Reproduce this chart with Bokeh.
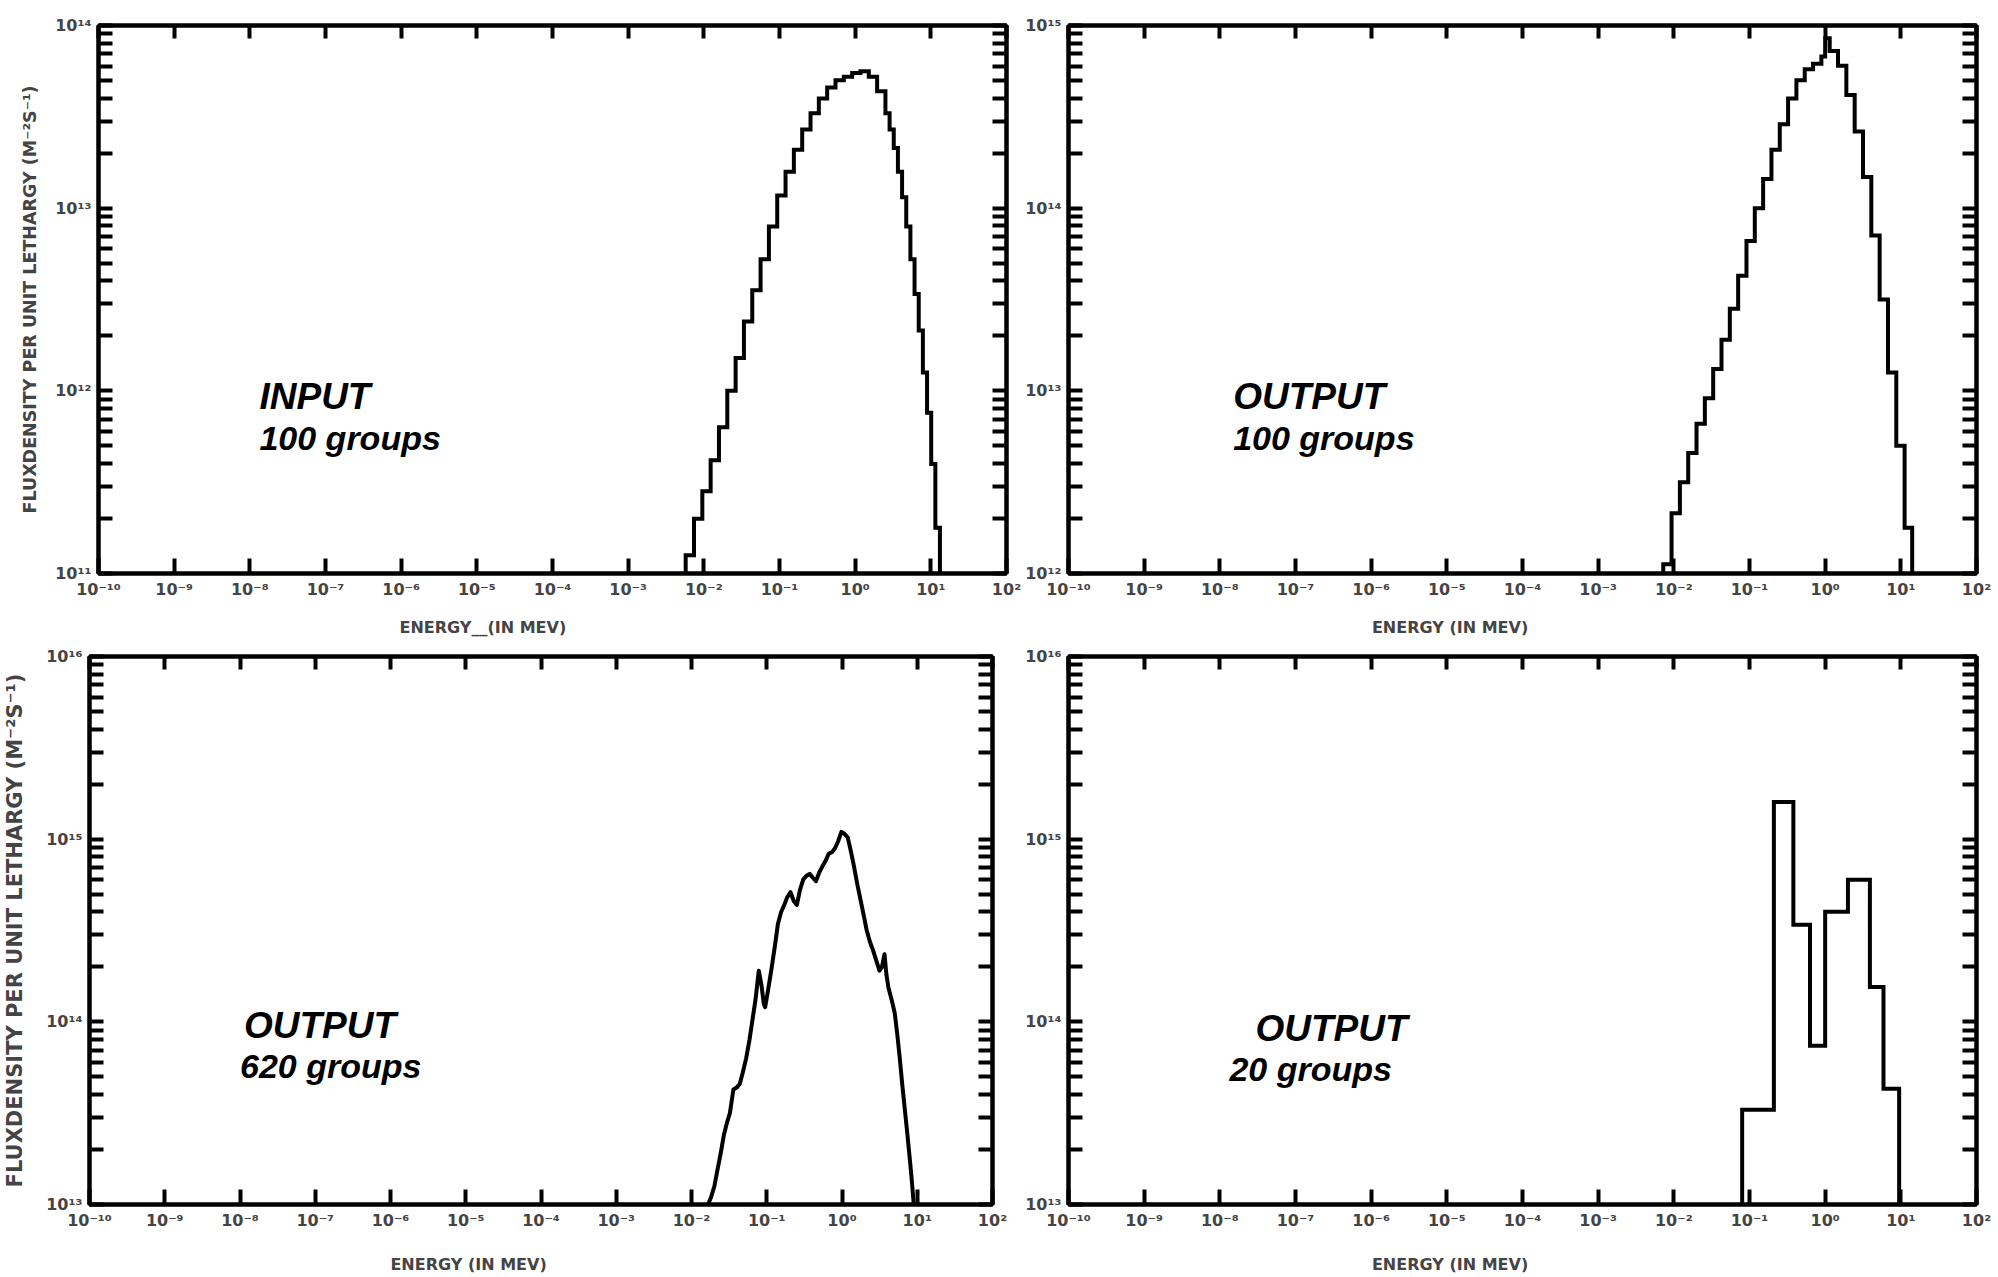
from bokeh.plotting import figure
from bokeh.models import LogAxis, FixedTicker, CustomJSTickFormatter, Label, Range1d
from bokeh.layouts import column, row
from bokeh.embed import file_html
from bokeh.resources import INLINE

# ---------------- data ----------------
energy_decades = list(range(-10, 3))          # x axis: 1e-10 .. 1e2 MeV

# Panel 1: INPUT, 100 groups  (log10 energy edges in MeV, log10 flux per group)
in100_log_edges = [-2.24, -2.13, -2.02, -1.91, -1.80, -1.69, -1.58, -1.47, -1.36, -1.25,
                   -1.14, -1.03, -0.92, -0.81, -0.70, -0.59, -0.48, -0.37, -0.26, -0.15,
                   -0.04, 0.07, 0.18, 0.29, 0.40, 0.455, 0.51, 0.565, 0.62, 0.675,
                   0.73, 0.785, 0.84, 0.895, 0.95, 1.005, 1.06, 1.12]
in100_log_flux = [11.10, 11.30, 11.45, 11.62, 11.80, 12.00, 12.18, 12.38, 12.55, 12.72,
                  12.90, 13.07, 13.20, 13.32, 13.43, 13.52, 13.60, 13.66, 13.70, 13.72,
                  13.74, 13.75, 13.72, 13.64, 13.52, 13.43, 13.33, 13.20, 13.06, 12.90,
                  12.72, 12.53, 12.33, 12.10, 11.88, 11.60, 11.25]
in100_decades = (11, 14)

# Panel 2: OUTPUT, 100 groups
out100_log_edges = [-2.14, -2.03, -1.92, -1.81, -1.70, -1.59, -1.48, -1.37, -1.26, -1.15,
                    -1.04, -0.93, -0.82, -0.71, -0.60, -0.49, -0.38, -0.27, -0.16, -0.05,
                    0.00, 0.06, 0.17, 0.28, 0.39, 0.50, 0.61, 0.72, 0.83, 0.94, 1.05, 1.15]
out100_log_flux = [12.05, 12.33, 12.50, 12.66, 12.82, 12.96, 13.12, 13.28, 13.45, 13.63,
                   13.82, 14.00, 14.16, 14.32, 14.46, 14.60, 14.70, 14.76, 14.79, 14.83,
                   14.93, 14.86, 14.78, 14.62, 14.42, 14.17, 13.85, 13.50, 13.10, 12.70, 12.25]
out100_decades = (12, 15)

# Panel 3: OUTPUT, 620 groups (fine structure drawn as a line)
out620_log_energy = [-1.781, -1.74, -1.696, -1.65, -1.612, -1.57, -1.527, -1.49, -1.443, -1.40,
                     -1.359, -1.32, -1.274, -1.23, -1.19, -1.15, -1.106, -1.07, -1.04, -1.021,
                     -0.98, -0.937, -0.89, -0.852, -0.81, -0.768, -0.73, -0.684, -0.64, -0.599,
                     -0.56, -0.515, -0.47, -0.43, -0.39, -0.346, -0.30, -0.262, -0.22, -0.177,
                     -0.13, -0.093, -0.05, -0.008, 0.03, 0.076, 0.12, 0.16, 0.20, 0.245,
                     0.29, 0.329, 0.37, 0.414, 0.46, 0.498, 0.53, 0.565, 0.59, 0.616,
                     0.66, 0.70, 0.735, 0.768, 0.80, 0.835, 0.87, 0.903, 0.93, 0.954]
out620_log_flux = [13.00, 13.04, 13.10, 13.20, 13.28, 13.38, 13.45, 13.50, 13.63, 13.64,
                   13.66, 13.72, 13.80, 13.90, 14.01, 14.12, 14.28, 14.20, 14.10, 14.08,
                   14.18, 14.29, 14.42, 14.535, 14.60, 14.64, 14.68, 14.71, 14.66, 14.64,
                   14.72, 14.78, 14.80, 14.81, 14.79, 14.77, 14.82, 14.85, 14.88, 14.92,
                   14.93, 14.95, 14.99, 15.04, 15.03, 15.01, 14.93, 14.85, 14.76, 14.67,
                   14.58, 14.50, 14.44, 14.39, 14.33, 14.28, 14.30, 14.37, 14.26, 14.19,
                   14.12, 14.05, 13.93, 13.80, 13.66, 13.52, 13.38, 13.24, 13.12, 13.00]
out620_decades = (13, 16)

# Panel 4: OUTPUT, 20 groups (energy edges in MeV, flux per group)
out20_edges = [0.08, 0.21, 0.38, 0.63, 1.0, 2.0, 3.9, 5.9, 9.5]
out20_flux = [3.3e13, 1.6e15, 3.4e14, 7.4e13, 4.0e14, 6.0e14, 1.55e14, 4.3e13]
out20_decades = (13, 16)

ylabel_text = "FLUXDENSITY PER UNIT LETHARGY (M\u207b\u00b2S\u207b\u00b9)"
xlabel_first = "ENERGY__(IN MEV)"
xlabel_text = "ENERGY  (IN MEV)"

# ---------------- helpers ----------------
SUP_JS = """
const sup = {"-":"\u207b","0":"\u2070","1":"\u00b9","2":"\u00b2","3":"\u00b3","4":"\u2074",
             "5":"\u2075","6":"\u2076","7":"\u2077","8":"\u2078","9":"\u2079"};
const e = Math.round(Math.log10(tick));
return "10" + String(e).split("").map(c => sup[c]).join("");
"""

TICK_FONT = "DejaVu Sans"
AX_W = 4
PAD = "\u00a0" * 25   # trailing no-break spaces shift the centred axis label to the left


def step_outline(edges, vals, floor):
    xs, ys = [edges[0]], [floor]
    for i, v in enumerate(vals):
        xs += [edges[i], edges[i + 1]]
        ys += [v, v]
    xs.append(edges[-1])
    ys.append(floor)
    return xs, ys


def make_panel(width, height, bl, br, bt, bb, decades, xlabel, xlabel_standoff,
               ylabel=None, ylabel_size="15px", ylabel_standoff=14):
    ylo, yhi = decades
    p = figure(width=width, height=height, x_axis_type="log", y_axis_type="log",
               x_range=Range1d(1e-10, 1e2), y_range=Range1d(10.0 ** ylo, 10.0 ** yhi),
               output_backend="svg", toolbar_location=None,
               min_border_left=bl, min_border_right=br, min_border_top=bt, min_border_bottom=bb)
    p.grid.visible = False
    p.outline_line_color = "black"
    p.outline_line_width = AX_W
    p.background_fill_color = "white"
    p.border_fill_color = "white"

    xt = FixedTicker(ticks=[10.0 ** k for k in energy_decades], minor_ticks=[])
    yt = FixedTicker(ticks=[10.0 ** k for k in range(ylo, yhi + 1)],
                     minor_ticks=[m * 10.0 ** k for k in range(ylo, yhi) for m in range(2, 10)])
    fmt = CustomJSTickFormatter(code=SUP_JS)

    for ax in p.xaxis:
        ax.ticker = xt
        ax.formatter = fmt
        ax.major_tick_in = 15
        ax.major_tick_out = 0
        ax.major_tick_line_width = AX_W
        ax.axis_line_width = AX_W
        ax.major_label_text_font = TICK_FONT
        ax.major_label_text_font_style = "bold"
        ax.major_label_text_font_size = "16px"
        ax.major_label_standoff = 6
        ax.axis_label = xlabel + PAD
        ax.axis_label_text_font = TICK_FONT
        ax.axis_label_text_font_style = "bold"
        ax.axis_label_text_font_size = "16px"
        ax.axis_label_standoff = xlabel_standoff
    for ax in p.yaxis:
        ax.ticker = yt
        ax.formatter = fmt
        ax.major_tick_in = 14
        ax.major_tick_out = 0
        ax.minor_tick_in = 14
        ax.minor_tick_out = 0
        ax.major_tick_line_width = AX_W
        ax.minor_tick_line_width = AX_W
        ax.axis_line_width = AX_W
        ax.major_label_text_font = TICK_FONT
        ax.major_label_text_font_style = "bold"
        ax.major_label_text_font_size = "16px"
        ax.major_label_standoff = 7
        if ylabel:
            ax.axis_label = ylabel
            ax.axis_label_text_font = TICK_FONT
            ax.axis_label_text_font_style = "bold"
            ax.axis_label_text_font_size = ylabel_size
            ax.axis_label_standoff = ylabel_standoff

    top = LogAxis(ticker=xt, major_label_text_color=None, major_label_text_font_size="4px",
                  major_tick_in=13, major_tick_out=0,
                  major_tick_line_width=AX_W, axis_line_width=AX_W, major_label_standoff=0)
    right = LogAxis(ticker=yt, major_label_text_color=None, major_label_text_font_size="4px",
                    major_tick_in=14, major_tick_out=0,
                    minor_tick_in=14, minor_tick_out=0, major_tick_line_width=AX_W,
                    minor_tick_line_width=AX_W, axis_line_width=AX_W, major_label_standoff=0)
    p.add_layout(top, "above")
    p.add_layout(right, "right")
    return p


def add_texts(p, x1, y1, t1, x2, y2, t2):
    p.add_layout(Label(x=x1, y=y1, text=t1, text_font="Liberation Sans",
                       text_font_style="bold italic", text_font_size="37px", text_color="black",
                       text_baseline="alphabetic"))
    p.add_layout(Label(x=x2, y=y2, text=t2, text_font="Liberation Sans",
                       text_font_style="bold italic", text_font_size="34px", text_color="black",
                       text_baseline="alphabetic"))


LINE_W = 4

# ---------------- panel 1 ----------------
p1 = make_panel(1022, 640, 98, 16, 25, 67, in100_decades, xlabel_first, 16,
                ylabel=ylabel_text, ylabel_size="17.5px", ylabel_standoff=12)
xs, ys = step_outline([10.0 ** v for v in in100_log_edges], [10.0 ** v for v in in100_log_flux],
                      10.0 ** in100_decades[0])
p1.line(xs, ys, line_color="black", line_width=LINE_W, line_join="miter")
add_texts(p1, 1.34e-8, 9.3e11, "INPUT", 1.34e-8, 5.55e11, "100 groups")

# ---------------- panel 2 ----------------
p2 = make_panel(976, 640, 46, 22, 25, 67, out100_decades, xlabel_text, 16)
xs, ys = step_outline([10.0 ** v for v in out100_log_edges], [10.0 ** v for v in out100_log_flux],
                      10.0 ** out100_decades[0])
p2.line(xs, ys, line_color="black", line_width=LINE_W, line_join="miter")
add_texts(p2, 1.5e-8, 9.3e12, "OUTPUT", 1.5e-8, 5.55e12, "100 groups")

# ---------------- panel 3 ----------------
p3 = make_panel(1022, 637, 87, 30, 16, 73, out620_decades, xlabel_text, 22,
                ylabel=ylabel_text, ylabel_size="21px", ylabel_standoff=16)
p3.line([10.0 ** v for v in out620_log_energy], [10.0 ** v for v in out620_log_flux],
        line_color="black", line_width=LINE_W, line_join="round")
add_texts(p3, 1.13e-8, 9.55e13, "OUTPUT", 1.0e-8, 5.7e13, "620 groups")

# ---------------- panel 4 ----------------
p4 = make_panel(976, 637, 46, 22, 16, 73, out20_decades, xlabel_text, 22)
xs, ys = step_outline(out20_edges, out20_flux, 10.0 ** out20_decades[0])
p4.line(xs, ys, line_color="black", line_width=LINE_W, line_join="miter")
add_texts(p4, 2.96e-8, 9.2e13, "OUTPUT", 1.34e-8, 5.5e13, "20 groups")

layout = column(row(p1, p2, spacing=0), row(p3, p4, spacing=0), spacing=0)
open("out.html", "w").write(file_html(layout, INLINE))
